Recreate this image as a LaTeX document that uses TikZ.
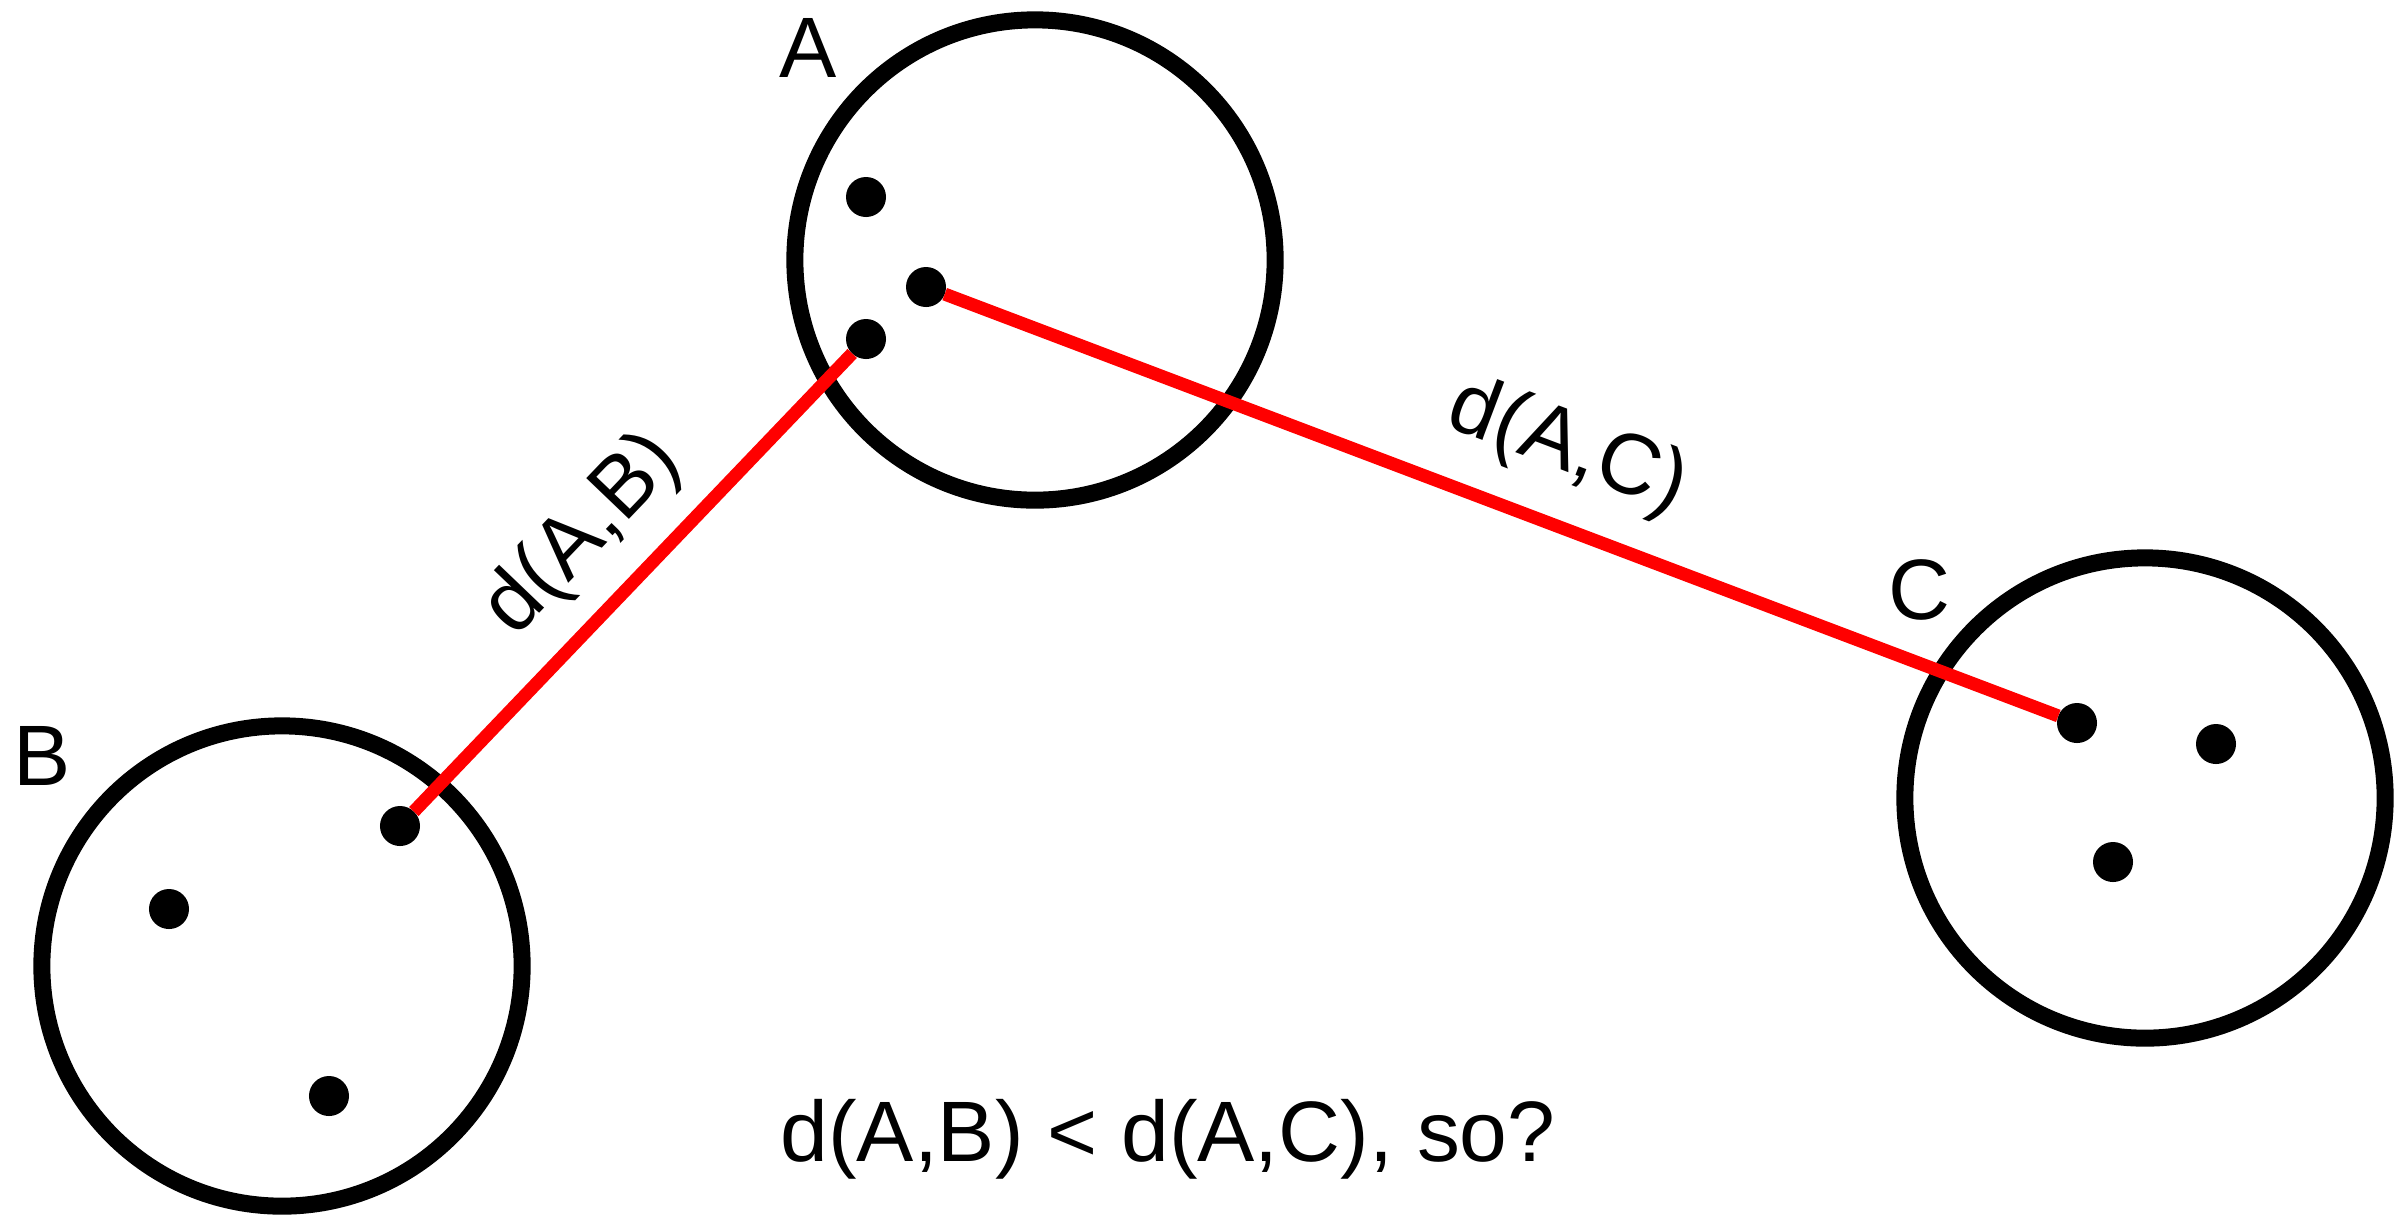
\documentclass[tikz,border=0pt]{standalone}
\usepackage{fontspec}
\setmainfont{Liberation Sans}
\usetikzlibrary{positioning}

\begin{document}
\begin{tikzpicture}[x=0.01cm,y=-0.01cm,
    cluster/.style={draw=black,circle,line width=0.17cm,minimum size=4.8cm,inner sep=0pt,outer sep=0pt},
    point/.style={fill=black,circle,minimum size=0.4cm,inner sep=0pt,outer sep=0pt},
    dist/.style={draw=red,line width=0.13cm},
    tag/.style={font=\fontsize{24.4}{29}\selectfont,inner sep=0pt}]
    \useasboundingbox (0,0) rectangle (2406,1217);
    \node[cluster] (A) at (1035,260) {};
    \node[cluster] (B) at (282,966) {};
    \node[cluster] (C) at (2145,798) {};
    \node[tag,anchor=base] (labA) at (808,77) {A};
    \node[tag,anchor=base] (labB) at (42,785) {B};
    \node[tag,anchor=base] (labC) at (1919,619) {C};
    \node[point] (a1) at (866,197) {};
    \node[point] (a2) at (926,287) {};
    \node[point] (a3) at (866,339) {};
    \node[point] (b1) at (400,826) {};
    \node[point] (b2) at (169,909) {};
    \node[point] (b3) at (329,1096) {};
    \node[point] (c1) at (2077,723) {};
    \node[point] (c2) at (2216,744) {};
    \node[point] (c3) at (2113,862) {};
    \draw[dist] (b1) -- node[tag,sloped,above=0.22cm] (dAB) {d(A,B)} (a3);
    \draw[dist] (a2) -- node[tag,sloped,pos=0.535,above=0.3cm] (dAC) {d(A,C)} (c1);
    \node[tag,anchor=base] (question) at (1168,1161) {d(A,B) < d(A,C), so?};
\end{tikzpicture}
\end{document}
